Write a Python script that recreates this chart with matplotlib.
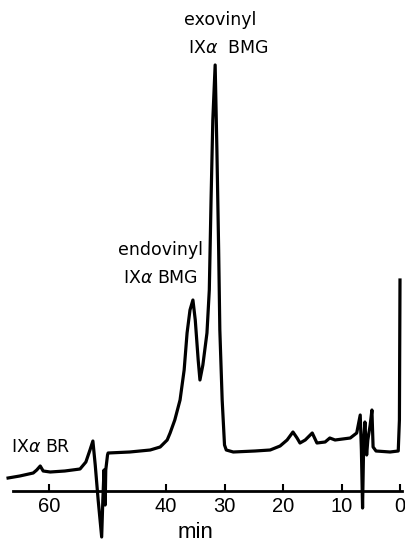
import numpy as np
import matplotlib
matplotlib.use("Agg")
import matplotlib.pyplot as plt

# retention time (min) and detector signal (arbitrary units)
time = [67.0, 65.0, 62.7, 62.1, 61.5, 61.0, 59.8, 57.3, 54.7, 53.7, 53.0, 52.5,
        52.1, 51.6, 51.0, 50.8, 50.6, 50.4, 50.3, 50.0, 49.9, 46.2, 42.7, 41.0,
        39.8, 39.3, 38.5, 37.6, 36.9, 36.4, 35.9, 35.4, 35.0, 34.5, 34.2, 33.7,
        33.0, 32.6, 32.3, 32.0, 31.6, 31.3, 31.0, 30.8, 30.4, 30.0, 29.7, 28.5,
        24.8, 22.2, 20.5, 19.3, 18.3, 17.6, 17.1, 16.2, 15.0, 14.2, 12.8, 12.0,
        11.1, 8.5, 7.4, 6.8, 6.6, 6.4, 6.2, 6.0, 5.7, 5.5, 5.1, 4.8, 4.6, 4.1,
        1.7, 0.3, 0.1, 0.0]
signal = [13, 15, 18, 21, 25, 20, 19, 20, 22, 29, 41, 50,
          26, -9, -46, -9, 21, -14, 21, 36, 38, 39, 41, 44,
          51, 58, 71, 91, 121, 158, 181, 191, 171, 131, 111, 126,
          158, 201, 291, 371, 426, 341, 241, 161, 91, 46, 41, 39,
          40, 41, 45, 51, 59, 53, 48, 51, 58, 48, 49, 53,
          51, 53, 58, 76, 41, -17, 51, 69, 36, 51, 66, 81, 44, 40,
          39, 40, 71, 211]

ticks = [60, 40, 30, 20, 10, 0]

# peak labels: (text, time, signal)
labels = [("exovinyl", 30.8, 471),
          ("IX$\\alpha$  BMG", 29.4, 443),
          ("endovinyl", 40.9, 241),
          ("IX$\\alpha$ BMG", 40.9, 213),
          ("IX$\\alpha$ BR", 61.5, 44)]

fig = plt.figure(figsize=(4.05, 5.46), dpi=100)
ax = fig.add_axes([0, 0, 1, 1])
ax.plot(time, signal, color="black", lw=2.3, solid_joinstyle="round")

ax.set_xlim(68.38, -0.855)
ax.set_ylim(-55, 491)

for s in ["left", "top", "right"]:
    ax.spines[s].set_visible(False)
ax.spines["bottom"].set_position(("data", 0))
ax.spines["bottom"].set_bounds(66.2, -0.3)
ax.spines["bottom"].set_linewidth(2.0)
ax.set_yticks([])
ax.set_xticks(ticks)
ax.set_xticklabels([str(t) for t in ticks], family="Liberation Sans", fontsize=14.5)
ax.tick_params(axis="x", direction="in", length=5, width=1.5, pad=4)

ax.text(35, -41, "min", ha="center", va="center", fontsize=16, family="Liberation Sans")

for txt, t, h in labels:
    ax.text(t, h, txt, ha="center", va="center", fontsize=12.5)

fig.savefig("out.png", dpi=100)
